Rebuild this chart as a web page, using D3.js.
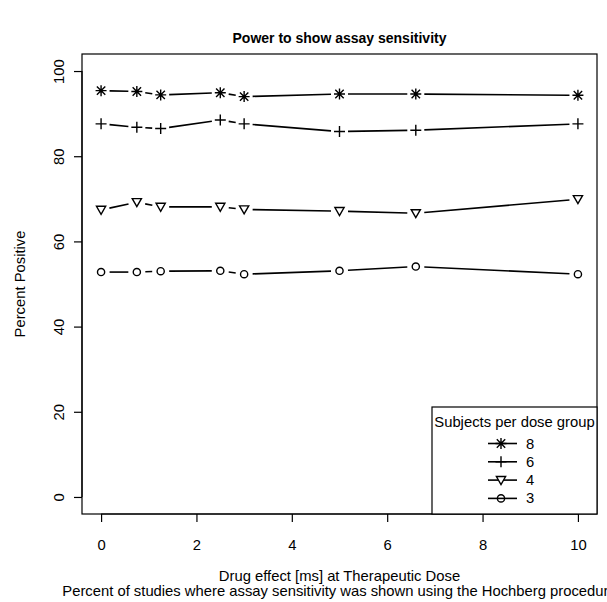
<!DOCTYPE html>
<html lang="en">
  <head>
    <meta charset="utf-8">
    <title>Power to show assay sensitivity</title>
    <script type="text/javascript" src="https://cdn.jsdelivr.net/npm/d3@7"></script>
    <style>
      body { margin: 0; background: white; }
      text { font-family: "Liberation Sans", Arial, Helvetica, sans-serif; fill: black; }
    </style>
  </head>

  <body>
    <script>
      // drug effect at therapeutic dose (ms)
      var effects = [0, 0.75, 1.25, 2.5, 3, 5, 6.6, 10]

      // percent positive per group size
      var n8 = [95.4, 95.2, 94.4, 94.9, 94.0, 94.6, 94.6, 94.3]
      var n6 = [87.6, 86.8, 86.5, 88.5, 87.6, 85.8, 86.1, 87.6]
      var n4 = [67.4, 69.2, 68.1, 68.1, 67.5, 67.1, 66.6, 69.9]
      var n3 = [52.8, 52.8, 53.0, 53.1, 52.3, 53.1, 54.1, 52.3]

      var groupLabels = ['8', '6', '4', '3']
      var groupShapes = ['asterisk', 'plus', 'triangle', 'circle']
      var xTicks = [0, 2, 4, 6, 8, 10]
      var yTicks = [0, 20, 40, 60, 80, 100]

      var width = 607, height = 602
      var pLeft = 82, pRight = 597, pTop = 54, pBottom = 514
      var fontSize = 14.8

      var svg = d3.select('body').append('svg').attr('width', width).attr('height', height)

      // R style: data range padded 4% on each side
      var x = d3.scaleLinear().domain([-0.4, 10.4]).range([pLeft, pRight])
      var y = d3.scaleLinear().domain([-4, 104]).range([pBottom, pTop])

      // draw one point marker, R pch style
      function marker(g, shape, cx, cy) {
        if (shape == 'circle') {
          g.append('circle').attr('cx', cx).attr('cy', cy).attr('r', 3.6)
            .attr('fill', 'none').attr('stroke', 'black').attr('stroke-width', 1.4)
          return
        }
        var d = ''
        if (shape == 'plus' || shape == 'asterisk') {
          d = 'M' + (cx - 5.5) + ',' + cy + 'H' + (cx + 5.5) + 'M' + cx + ',' + (cy - 5.5) + 'V' + (cy + 5.5)
        }
        if (shape == 'asterisk') {
          var a = 4.2
          d += 'M' + (cx - a) + ',' + (cy - a) + 'L' + (cx + a) + ',' + (cy + a)
          d += 'M' + (cx - a) + ',' + (cy + a) + 'L' + (cx + a) + ',' + (cy - a)
        }
        if (shape == 'triangle') {
          d = 'M' + (cx - 4.6) + ',' + (cy - 3.6) + 'L' + (cx + 4.6) + ',' + (cy - 3.6) + 'L' + cx + ',' + (cy + 4.4) + 'Z'
        }
        g.append('path').attr('d', d).attr('fill', 'white').attr('stroke', 'black').attr('stroke-width', 1.4)
      }

      // type="b": segments with a gap round each point
      function drawSeries(values, shape) {
        var g = svg.append('g')
        var gap = 8.5
        for (var i = 0; i < values.length - 1; i++) {
          var x0 = x(effects[i]), y0 = y(values[i])
          var x1 = x(effects[i + 1]), y1 = y(values[i + 1])
          var len = Math.sqrt((x1 - x0) * (x1 - x0) + (y1 - y0) * (y1 - y0))
          if (len <= 2 * gap) continue
          var ux = (x1 - x0) / len, uy = (y1 - y0) / len
          g.append('line')
            .attr('x1', x0 + ux * gap).attr('y1', y0 + uy * gap)
            .attr('x2', x1 - ux * gap).attr('y2', y1 - uy * gap)
            .attr('stroke', 'black').attr('stroke-width', 1.6)
        }
        values.forEach(function(v, i) { marker(g, shape, x(effects[i]), y(v)) })
      }

      drawSeries(n8, 'asterisk')
      drawSeries(n6, 'plus')
      drawSeries(n4, 'triangle')
      drawSeries(n3, 'circle')

      // plot box
      svg.append('rect').attr('x', pLeft).attr('y', pTop).attr('width', pRight - pLeft).attr('height', pBottom - pTop)
        .attr('fill', 'none').attr('stroke', 'black').attr('stroke-width', 1.2)

      // axes
      var xAxis = svg.append('g').attr('transform', 'translate(0,' + pBottom + ')')
        .call(d3.axisBottom(x).tickValues(xTicks).tickSize(8).tickPadding(17).tickFormat(d3.format('d')))
      var yAxis = svg.append('g').attr('transform', 'translate(' + pLeft + ',0)')
        .call(d3.axisLeft(y).tickValues(yTicks).tickSize(8).tickFormat(d3.format('d')))
      xAxis.select('.domain').attr('d', 'M' + x(0) + ',0H' + x(10)).attr('stroke-width', 1.2)
      yAxis.select('.domain').attr('d', 'M0,' + y(0) + 'V' + y(100)).attr('stroke-width', 1.2)
      svg.selectAll('.tick line').attr('stroke-width', 1.2)
      xAxis.selectAll('text').attr('font-size', fontSize).attr('font-family', '"Liberation Sans", Arial, sans-serif')
      yAxis.selectAll('text').attr('font-size', fontSize).attr('font-family', '"Liberation Sans", Arial, sans-serif')
        .attr('x', null).attr('dy', '0.35em')
        .attr('transform', 'translate(-23,0) rotate(-90)')
        .attr('text-anchor', 'middle')

      // titles
      var cx = (pLeft + pRight) / 2
      svg.append('text').attr('x', cx).attr('y', 43).attr('text-anchor', 'middle')
        .attr('font-size', 14).attr('font-weight', 'bold').text('Power to show assay sensitivity')
      svg.append('text').attr('x', cx).attr('y', 581).attr('text-anchor', 'middle')
        .attr('font-size', fontSize).text('Drug effect [ms] at Therapeutic Dose')
      svg.append('text').attr('x', cx).attr('y', 596).attr('text-anchor', 'middle')
        .attr('font-size', fontSize).text('Percent of studies where assay sensitivity was shown using the Hochberg procedure')
      svg.append('text').attr('transform', 'translate(25,' + (pTop + pBottom) / 2 + ') rotate(-90)')
        .attr('text-anchor', 'middle').attr('font-size', fontSize).text('Percent Positive')

      // legend, bottom right
      var legTop = 407, legLeft = 432
      var leg = svg.append('g')
      leg.append('rect').attr('x', legLeft).attr('y', legTop).attr('width', pRight - legLeft).attr('height', pBottom - legTop)
        .attr('fill', 'white').attr('stroke', 'black').attr('stroke-width', 1.2)
      leg.append('text').attr('x', (legLeft + pRight) / 2).attr('y', legTop + 20).attr('text-anchor', 'middle')
        .attr('font-size', fontSize).text('Subjects per dose group')
      groupLabels.forEach(function(lab, i) {
        var ry = legTop + 36.5 + i * 18.3
        leg.append('line').attr('x1', 488).attr('x2', 517).attr('y1', ry).attr('y2', ry)
          .attr('stroke', 'black').attr('stroke-width', 1.6)
        marker(leg, groupShapes[i], 501, ry)
        leg.append('text').attr('x', 526).attr('y', ry + 5).attr('font-size', fontSize).text(lab)
      })
    </script>
  </body>
</html>
